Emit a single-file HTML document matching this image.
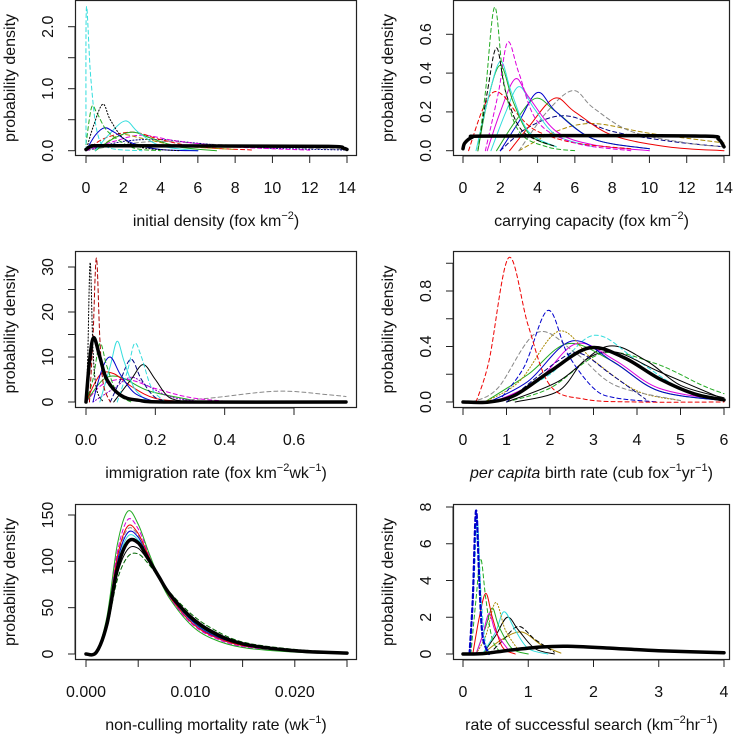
<!DOCTYPE html>
<html><head><meta charset="utf-8">
<style>
html,body{margin:0;padding:0;background:#fff;}
svg{display:block;}
text{font-family:"Liberation Sans",Arial,sans-serif;fill:#111;}
</style></head>
<body>
<svg id="fig" width="735" height="735" viewBox="0 0 735 735"></svg>
<script>
// ---------- Panel data (top-level arrays) ----------
const p1Ticks=[0,2,4,6,8,10,12,14], p1YTicks=[0,0.5,1.0,1.5,2.0], p1YLabels=["0.0","","1.0","","2.0"];
const p2Ticks=[0,2,4,6,8,10,12,14], p2YTicks=[0,0.2,0.4,0.6], p2YLabels=["0.0","0.2","0.4","0.6"];
const p3Ticks=[0,0.2,0.4,0.6], p3TickLabels=["0.0","0.2","0.4","0.6"], p3YTicks=[0,5,10,15,20,25,30], p3YLabels=["0","","10","","20","","30"];
const p4Ticks=[0,1,2,3,4,5,6], p4YTicks=[0,0.2,0.4,0.6,0.8,1.0], p4YLabels=["0.0","","0.4","","0.8",""];
const p5Ticks=[0,0.005,0.01,0.015,0.02,0.025], p5TickLabels=["0.000","","0.010","","0.020",""], p5YTicks=[0,50,100,150], p5YLabels=["0","50","100","150"];
const p6Ticks=[0,1,2,3,4], p6YTicks=[0,2,4,6,8], p6YLabels=["0","2","4","6","8"];

// Panel 1 curves: initial density
const p1Curves=[
 {c:"#888888",d:"d",x:[0,2,4,7,12,14],y:[0,0.1,0.15,0.1,0.04,0.02]},
 {c:"#000080",d:"o",x:[0,2,4,6,9,14],y:[0,0.15,0.18,0.12,0.05,0.01]},
 {c:"#dd00dd",d:"d",x:[0,1.5,3,5,8,12],y:[0,0.15,0.25,0.15,0.06,0.01]},
 {c:"#ee0000",d:"d",x:[0,1,2.5,4,6,9],y:[0,0.2,0.3,0.18,0.06,0.01]},
 {c:"#aa8800",d:"d",x:[0.5,1.8,3,5,8],y:[0,0.25,0.2,0.08,0.02]},
 {c:"#22aa22",d:"s",x:[0.5,1.5,2.5,3.5,5,7],y:[0,0.2,0.3,0.2,0.06,0]},
 {c:"#33dddd",d:"s",x:[0.5,1.2,2.1,2.8,4,6],y:[0,0.25,0.48,0.3,0.08,0]},
 {c:"#0000cc",d:"s",x:[0,0.5,1,1.5,2.5,4,6],y:[0,0.25,0.37,0.3,0.12,0.02,0]},
 {c:"#22aa22",d:"d",x:[0,0.3,0.6,1.2,2.5,4],y:[0.1,0.7,0.6,0.3,0.05,0]},
 {c:"#000000",d:"o",x:[0,0.4,0.9,1.3,2,3,5],y:[0,0.4,0.75,0.5,0.2,0.05,0]},
 {c:"#33dddd",d:"d",x:[0,0.02,0.25,0.6,1.2,3],y:[0,2.3,1.2,0.3,0.05,0]},
 {c:"#000000",d:"s",w:3.5,x:[0,0.3,1,7,13,13.8,14],y:[0.02,0.07,0.08,0.075,0.07,0.04,0.02]}
];
// Panel 2 curves: carrying capacity
const p2Curves=[
 {c:"#aa8800",d:"d",x:[3,5,7,10,14],y:[0,0.1,0.14,0.09,0.04]},
 {c:"#000080",d:"d",x:[2,3.5,5.5,8,11,14],y:[0,0.12,0.18,0.1,0.05,0.02]},
 {c:"#888888",d:"d",x:[3,4.5,5.9,7,9,12,14],y:[0,0.2,0.31,0.22,0.1,0.04,0.02]},
 {c:"#ee0000",d:"s",x:[2.5,3.5,4.9,6,8,11,14],y:[0,0.12,0.27,0.2,0.08,0.02,0]},
 {c:"#22aa22",d:"s",x:[1.8,2.8,3.9,5,7,10],y:[0,0.15,0.27,0.2,0.06,0.01]},
 {c:"#0000cc",d:"s",x:[2,3,4,5,7,10],y:[0,0.15,0.3,0.2,0.06,0.01]},
 {c:"#33dddd",d:"s",x:[1.5,2.3,3,3.8,5,7],y:[0,0.2,0.33,0.22,0.08,0.02]},
 {c:"#dd00dd",d:"s",x:[1.3,2,2.8,3.5,5,7,10],y:[0,0.2,0.37,0.28,0.1,0.03,0]},
 {c:"#ee0000",d:"d",x:[0.3,1,1.6,2.2,3,4,6,9],y:[0,0.2,0.3,0.28,0.18,0.1,0.04,0.01]},
 {c:"#22aa22",d:"s",x:[0.8,1.3,2,2.7,3.6,5],y:[0,0.25,0.44,0.25,0.08,0.02]},
 {c:"#33dddd",d:"s",x:[0.7,1.3,2,2.6,3.5,5],y:[0,0.25,0.46,0.3,0.1,0.02]},
 {c:"#dd00dd",d:"d",x:[1.2,1.9,2.4,3,4,6,9],y:[0,0.3,0.56,0.4,0.15,0.04,0]},
 {c:"#000000",d:"d",x:[0.8,1.3,1.8,2.3,3.2,5],y:[0,0.3,0.53,0.3,0.1,0.02]},
 {c:"#22aa22",d:"d",x:[0.8,1.2,1.7,2.2,3,4.5,6],y:[0,0.3,0.74,0.35,0.1,0.02,0]},
 {c:"#000000",d:"s",w:3.5,x:[0,0.1,0.5,1,7,13,13.7,14],y:[0.01,0.04,0.07,0.075,0.078,0.075,0.06,0.02]}
];
// Panel 3 curves: immigration rate
const p3Curves=[
 {c:"#888888",d:"d",x:[0.2,0.35,0.55,0.7,0.75],y:[0,0.8,2.4,1.6,1.2]},
 {c:"#dd00dd",d:"d",x:[0,0.05,0.12,0.2,0.3,0.4],y:[0,4,5,3,1,0.2]},
 {c:"#22aa22",d:"s",x:[0,0.05,0.1,0.18,0.3],y:[0,5,5.5,2.5,0.5]},
 {c:"#ee0000",d:"s",x:[0,0.04,0.08,0.13,0.2,0.3],y:[0,6,6.3,3.5,0.8,0]},
 {c:"#8800cc",d:"o",x:[0.02,0.08,0.13,0.18,0.25,0.35],y:[0,3,5.5,3.5,1,0]},
 {c:"#000000",d:"s",x:[0.08,0.13,0.165,0.2,0.24,0.3],y:[0,5,8.3,5,1,0]},
 {c:"#000080",d:"d",x:[0.07,0.1,0.13,0.16,0.2,0.25],y:[0,5,9.5,5,1,0]},
 {c:"#33dddd",d:"d",x:[0.09,0.12,0.14,0.16,0.19,0.23],y:[0,7,13,10,3,0]},
 {c:"#33dddd",d:"s",x:[0.04,0.07,0.09,0.11,0.14,0.18],y:[0,8,13.5,9,3,0]},
 {c:"#0000cc",d:"s",x:[0.02,0.045,0.07,0.1,0.14,0.2],y:[0,7,10,6,2,0]},
 {c:"#22aa22",d:"d",x:[0,0.02,0.04,0.06,0.09,0.13],y:[0,5,13,8,2,0]},
 {c:"#aa0000",d:"d",x:[0.01,0.02,0.03,0.04,0.05,0.07],y:[0,14,32,14,4,0]},
 {c:"#000000",d:"o",x:[0,0.005,0.012,0.02,0.03,0.05],y:[0,10,31,12,3,0]},
 {c:"#000000",d:"s",w:3.5,x:[0,0.01,0.022,0.04,0.06,0.1,0.15,0.25,0.75],y:[0,9,14.3,10,5,1.5,0.4,0,0]}
];
// Panel 4 curves: per capita birth rate
const p4Curves=[
 {c:"#22aa22",d:"d",x:[1,2,3.2,4.4,5.5,6],y:[0,0.1,0.35,0.28,0.12,0.06]},
 {c:"#000000",d:"s",x:[1,2.2,3.3,4.2,5,6],y:[0,0.15,0.4,0.3,0.12,0.03]},
 {c:"#33dddd",d:"d",x:[0.8,2,3,4,5,6],y:[0,0.2,0.48,0.3,0.1,0.02]},
 {c:"#000000",d:"s",x:[1.2,2.2,2.8,3.5,4.5,6],y:[0,0.08,0.3,0.36,0.22,0.02]},
 {c:"#22aa22",d:"s",x:[0.5,1.5,2.4,3.4,4.5,6],y:[0,0.2,0.42,0.3,0.08,0.01]},
 {c:"#dd00dd",d:"s",x:[0.7,1.7,2.6,3.5,4.5,6],y:[0,0.15,0.42,0.3,0.1,0.01]},
 {c:"#0000cc",d:"s",x:[0.6,1.5,2.5,3.5,4.5,6],y:[0,0.15,0.44,0.28,0.08,0.01]},
 {c:"#aa8800",d:"o",x:[0.5,1.3,2.2,3,4,5],y:[0,0.15,0.51,0.3,0.08,0.01]},
 {c:"#888888",d:"d",x:[0.2,0.8,1.7,2.6,3.5,5],y:[0,0.1,0.5,0.35,0.12,0.01]},
 {c:"#000080",d:"d",x:[1,2.2,2.7,3.4,4.2],y:[0,0.3,0.35,0.2,0.02]},
 {c:"#0000cc",d:"d",x:[0.8,1.4,1.95,2.4,3,3.5,4.5],y:[0,0.25,0.66,0.35,0.1,0.03,0]},
 {c:"#ee0000",d:"d",x:[0.3,0.6,1.05,1.5,2,2.8,4,6],y:[0,0.3,1.04,0.55,0.12,0.02,0,0]},
 {c:"#000000",d:"s",w:3.5,x:[0,0.6,1.2,2,2.9,3.7,4.5,5.3,6],y:[0,0,0.05,0.22,0.39,0.32,0.17,0.06,0.015]}
];
// Panel 5: shared x grid, series values
const p5X=[0,0.001,0.002,0.003,0.004,0.005,0.006,0.007,0.008,0.01,0.012,0.015,0.02,0.025];
const p5Green=[0,3,40,118,154,140,110,82,60,32,17,7,2,0.5];
const p5Magenta=[0,3,38,110,145,135,108,82,61,34,19,8,2.5,0.7];
const p5Red=[0,3,36,105,138,130,106,82,62,35,20,9,3,0.8];
const p5Grey=[0,2,35,103,135,128,105,82,62,36,20,9,3,0.8];
const p5Blue=[0,3,34,100,131,126,104,82,63,37,21,10,3.2,0.9];
const p5Cyan=[0,2,33,96,127,123,103,82,64,38,22,10,3.3,1];
const p5BlackSolid=[0,2,30,86,113,114,100,83,66,42,26,12,4,1.2];
const p5DarkGreen=[0,2,28,80,105,108,97,82,67,44,28,13,5,1.5];
const p5Thick=[0,2,32,92,121,120,102,83,65,40,24,11,3.5,1];
const p5Curves=[
 {c:"#006600",d:"d",x:p5X,y:p5DarkGreen},
 {c:"#000000",d:"s",x:p5X,y:p5BlackSolid},
 {c:"#33dddd",d:"s",x:p5X,y:p5Cyan},
 {c:"#0000cc",d:"s",x:p5X,y:p5Blue},
 {c:"#888888",d:"d",x:p5X,y:p5Grey},
 {c:"#ee0000",d:"s",x:p5X,y:p5Red},
 {c:"#dd00dd",d:"d",x:p5X,y:p5Magenta},
 {c:"#22aa22",d:"s",x:p5X,y:p5Green},
 {c:"#000000",d:"s",w:3.5,x:p5X,y:p5Thick}
];
// Panel 6: rate of successful search
const p6Curves=[
 {c:"#aa8800",d:"s",x:[0.3,0.6,0.9,1.2,1.5],y:[0,0.8,1.2,0.5,0.05]},
 {c:"#000000",d:"d",x:[0.4,0.6,0.85,1.1,1.4],y:[0,0.7,1.5,0.8,0.1]},
 {c:"#000000",d:"s",x:[0.3,0.5,0.68,0.85,1.1,1.4],y:[0,1,2,1.3,0.3,0]},
 {c:"#33dddd",d:"s",x:[0.3,0.5,0.63,0.8,1,1.3],y:[0,1.2,2.3,1.3,0.3,0]},
 {c:"#22aa22",d:"s",x:[0.2,0.35,0.45,0.55,0.75,1],y:[0,1.5,2.5,1.5,0.3,0]},
 {c:"#dd00dd",d:"s",x:[0.2,0.3,0.4,0.5,0.7],y:[0,1,2.2,1.2,0.2]},
 {c:"#aa8800",d:"o",x:[0.2,0.35,0.5,0.65,0.85],y:[0,1,2.8,1.3,0.2]},
 {c:"#ee0000",d:"s",x:[0.15,0.25,0.35,0.45,0.6,0.8],y:[0,2,3.3,2,0.4,0]},
 {c:"#22aa22",d:"d",x:[0.12,0.2,0.27,0.35,0.45,0.6],y:[0,3,5.2,3,0.8,0]},
 {c:"#33dddd",d:"d",x:[0.1,0.17,0.22,0.28,0.35,0.45],y:[0,4,7.3,3,0.5,0]},
 {c:"#0000cc",d:"d",w:2.2,x:[0.1,0.15,0.2,0.25,0.3,0.4],y:[0,3,7.8,4,1,0]},
 {c:"#000000",d:"s",w:3.5,x:[0,0.3,0.7,1.2,1.6,2.2,3,4],y:[0,0.02,0.2,0.38,0.42,0.33,0.18,0.07]}
];

// ---------- Layout ----------
const panels=[
 {name:"initial-density",L:75,R:357,T:0,B:156,x0:0,x1:14,px0:86,px1:347,y0:0,yv:2.0,py0:150.7,pyv:26.7,xt:p1Ticks,yt:p1YTicks,yl:p1YLabels,curves:p1Curves,title:'initial density (fox km<tspan dy="-7" font-size="11">−2</tspan><tspan dy="7">)</tspan>'},
 {name:"carrying-capacity",L:453,R:730,T:0,B:156,x0:0,x1:14,px0:463,px1:724,y0:0,yv:0.6,py0:150.7,pyv:34.3,xt:p2Ticks,yt:p2YTicks,yl:p2YLabels,curves:p2Curves,title:'carrying capacity (fox km<tspan dy="-7" font-size="11">−2</tspan><tspan dy="7">)</tspan>'},
 {name:"immigration-rate",L:75,R:357,T:251,B:408,x0:0,x1:0.6,px0:86,px1:294,y0:0,yv:30,py0:402,pyv:267,xt:p3Ticks,xl:p3TickLabels,yt:p3YTicks,yl:p3YLabels,curves:p3Curves,title:'immigration rate (fox km<tspan dy="-7" font-size="11">−2</tspan><tspan dy="7">wk</tspan><tspan dy="-7" font-size="11">−1</tspan><tspan dy="7">)</tspan>'},
 {name:"birth-rate",L:453,R:730,T:251,B:408,x0:0,x1:6,px0:463,px1:724,y0:0,yv:0.8,py0:402,pyv:291,xt:p4Ticks,yt:p4YTicks,yl:p4YLabels,curves:p4Curves,title:'<tspan font-style="italic">per capita</tspan> birth rate (cub fox<tspan dy="-7" font-size="11">−1</tspan><tspan dy="7">yr</tspan><tspan dy="-7" font-size="11">−1</tspan><tspan dy="7">)</tspan>'},
 {name:"mortality-rate",L:75,R:357,T:504,B:660,x0:0,x1:0.025,px0:86,px1:347,y0:0,yv:150,py0:654,pyv:515,xt:p5Ticks,xl:p5TickLabels,yt:p5YTicks,yl:p5YLabels,curves:p5Curves,title:'non-culling mortality rate (wk<tspan dy="-7" font-size="11">−1</tspan><tspan dy="7">)</tspan>'},
 {name:"search-rate",L:453,R:730,T:504,B:660,x0:0,x1:4,px0:463,px1:724,y0:0,yv:8,py0:654,pyv:507,xt:p6Ticks,yt:p6YTicks,yl:p6YLabels,curves:p6Curves,title:'rate of successful search (km<tspan dy="-7" font-size="11">−2</tspan><tspan dy="7">hr</tspan><tspan dy="-7" font-size="11">−1</tspan><tspan dy="7">)</tspan>'}
];
const NS="http://www.w3.org/2000/svg";
const svg=document.getElementById("fig");
function mk(tag,attrs,parent){const e=document.createElementNS(NS,tag);for(const k in attrs)e.setAttribute(k,attrs[k]);parent.appendChild(e);return e;}
function spline(pts){
 if(pts.length<2)return "";
 let d="M"+pts[0][0].toFixed(2)+","+pts[0][1].toFixed(2);
 for(let i=0;i<pts.length-1;i++){
  const p0=pts[Math.max(0,i-1)],p1=pts[i],p2=pts[i+1],p3=pts[Math.min(pts.length-1,i+2)];
  const c1x=p1[0]+(p2[0]-p0[0])/6,c1y=p1[1]+(p2[1]-p0[1])/6;
  const c2x=p2[0]-(p3[0]-p1[0])/6,c2y=p2[1]-(p3[1]-p1[1])/6;
  d+=" C"+c1x.toFixed(2)+","+c1y.toFixed(2)+" "+c2x.toFixed(2)+","+c2y.toFixed(2)+" "+p2[0].toFixed(2)+","+p2[1].toFixed(2);
 }
 return d;
}
panels.forEach((P,pi)=>{
 const g=mk("g",{},svg);
 
 
 const sx=v=>P.px0+(v-P.x0)*(P.px1-P.px0)/(P.x1-P.x0);
 const sy=v=>P.py0+(v-P.y0)*(P.pyv-P.py0)/(P.yv-P.y0);
 const cp=mk("clipPath",{id:"clip"+pi},g);
 mk("rect",{x:P.L,y:P.T,width:P.R-P.L,height:P.B-P.T},cp);
 const cg=mk("g",{"clip-path":"url(#clip"+pi+")"},g);
 P.curves.forEach((C,ci)=>{
  const pts=C.x.map((xv,i)=>[sx(xv),Math.min(sy(0),sy(C.y[i]))]);
  const dash=C.d==="d"?"4,3":(C.d==="o"?"1.2,2":"none");
  const path=mk("path",{d:spline(pts),fill:"none",stroke:C.c,"stroke-width":C.w||1,"stroke-dasharray":dash,"stroke-linejoin":"round","stroke-linecap":"round"},cg);
  
  
 });
 const box=mk("rect",{x:P.L+0.5,y:P.T+0.5,width:P.R-P.L-1,height:P.B-P.T-1,fill:"none",stroke:"#222","stroke-width":1.2},g);
 
 
 // x axis
 const xa=mk("g",{},g);
 
 
 const xs=P.xt.filter(v=>sx(v)<=P.R+1);
 mk("line",{x1:sx(xs[0]),x2:sx(xs[xs.length-1]),y1:P.B,y2:P.B,stroke:"#222"},xa);
 xs.forEach((v,i)=>{
  mk("line",{x1:sx(v),x2:sx(v),y1:P.B,y2:P.B+7,stroke:"#222"},xa);
  const lab=P.xl?P.xl[i]:String(v);
  if(lab){const t=mk("text",{x:sx(v),y:P.B+37,"text-anchor":"middle","font-size":16},xa);t.textContent=lab;
   
   }
 });
 // y axis
 const ya=mk("g",{},g);
 
 
 mk("line",{x1:P.L,x2:P.L,y1:sy(P.yt[0]),y2:sy(P.yt[P.yt.length-1]),stroke:"#222"},ya);
 P.yt.forEach((v,i)=>{
  const y=sy(v);
  mk("line",{x1:P.L-7,x2:P.L,y1:y,y2:y,stroke:"#222"},ya);
  if(P.yl[i]){const cx=P.L-22;const t=mk("text",{x:cx,y:y,"text-anchor":"middle","font-size":16,transform:"rotate(-90 "+cx+" "+y+")"},ya);t.textContent=P.yl[i];
   
   }
 });
 const yc=P.L-60, ym=(P.T+P.B)/2;
 const yt=mk("text",{x:yc,y:ym,"text-anchor":"middle","font-size":16,transform:"rotate(-90 "+yc+" "+ym+")"},g);
 yt.textContent="probability density";
 
 
 const xt=mk("text",{x:(P.L+P.R)/2,y:P.B+70,"text-anchor":"middle","font-size":16},g);
 xt.innerHTML=P.title;
 
 
});
</script>
</body></html>
